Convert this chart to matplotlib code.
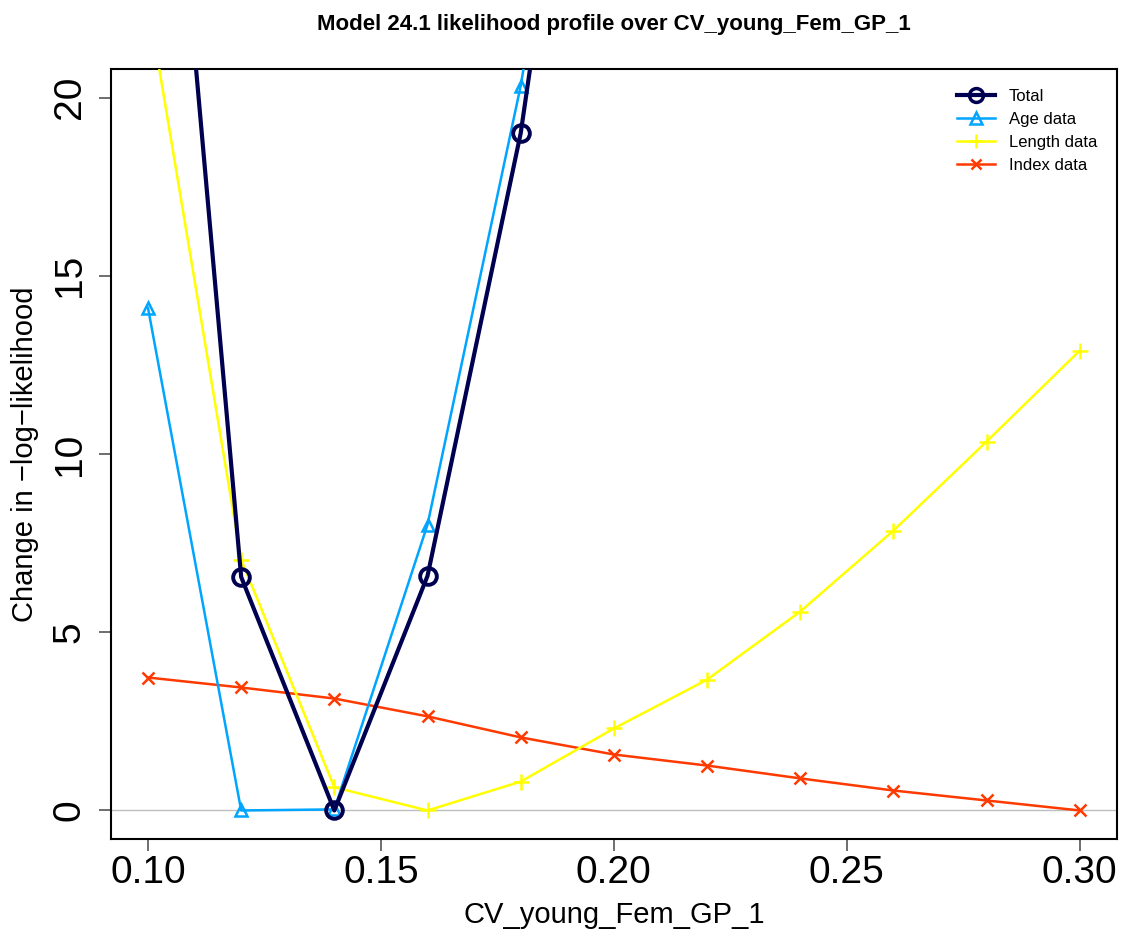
import numpy as np
import matplotlib
matplotlib.use("Agg")
import matplotlib.pyplot as plt
from matplotlib.lines import Line2D

plt.rcParams['font.family'] = ['Liberation Sans', 'DejaVu Sans']

# Profile over CV_young_Fem_GP_1
param = [0.10, 0.12, 0.14, 0.16, 0.18, 0.20, 0.22, 0.24, 0.26, 0.28, 0.30]
total = [36.0, 6.55, 0.0, 6.58, 19.0, 37.0, 58.0, 82.0, 108.0, 136.0, 166.0]
age_data = [14.1, 0.0, 0.03, 8.02, 20.33, 36.0, 54.0, 74.0, 96.0, 120.0, 146.0]
length_data = [22.7, 7.04, 0.65, 0.0, 0.81, 2.30, 3.67, 5.58, 7.85, 10.35, 12.9]
index_data = [3.73, 3.45, 3.14, 2.64, 2.05, 1.57, 1.26, 0.90, 0.56, 0.28, 0.0]

labels = ["Total", "Age data", "Length data", "Index data"]
colors = ["#000050", "#00A5FF", "#FFFF00", "#FF3A00"]

xticks = [0.10, 0.15, 0.20, 0.25, 0.30]
yticks = [0, 5, 10, 15, 20]

fig = plt.figure(figsize=(11.24, 9.43), dpi=100)
ax = fig.add_axes([0.0985, 0.1103, 0.8953, 0.8165])

ax.axhline(0, color="#BEBEBE", lw=1.0, zorder=1)

ax.plot(param, index_data, color=colors[3], lw=1.8, marker="x", ms=8,
        mew=1.8, zorder=3)
ax.plot(param, length_data, color=colors[2], lw=1.8, marker="+", ms=11,
        mew=1.8, zorder=3)
ax.plot(param, age_data, color=colors[1], lw=1.8, marker="^", ms=9,
        mfc="none", mew=1.8, zorder=4)
ax.plot(param, total, color=colors[0], lw=3.0, marker="o", ms=12,
        mfc="none", mew=2.8, zorder=5)

ax.set_xlim(0.092, 0.308)
ax.set_ylim(-0.8, 20.8)
ax.set_xticks(xticks)
ax.set_xticklabels([f"{t:.2f}" for t in xticks])
ax.set_yticks(yticks)
ax.set_yticklabels([str(t) for t in yticks], rotation=90, va="center")
ax.tick_params(axis="both", direction="out", length=8.6, width=1.2, color="#555555",
               labelsize=28)
ax.tick_params(axis="x", pad=3)
ax.tick_params(axis="y", pad=8)
for s in ax.spines.values():
    s.set_linewidth(1.5)

ax.set_xlabel("CV_young_Fem_GP_1", fontsize=21, va="center")
ax.xaxis.set_label_coords(0.5, -0.0987)
ax.set_ylabel("Change in \u2212log\u2212likelihood", fontsize=21, va="center")
ax.yaxis.set_label_coords(-0.0852, 0.5)
ax.set_title("Model 24.1 likelihood profile over CV_young_Fem_GP_1",
             fontsize=16, fontweight="bold", pad=28)

handles = [
    Line2D([], [], color=colors[0], lw=3.0, marker="o", ms=10, mfc="none", mew=2.5),
    Line2D([], [], color=colors[1], lw=1.8, marker="^", ms=8, mfc="none", mew=1.8),
    Line2D([], [], color=colors[2], lw=1.8, marker="+", ms=10, mew=1.8),
    Line2D([], [], color=colors[3], lw=1.8, marker="x", ms=7, mew=1.8),
]
ax.legend(handles, labels, loc="upper right", frameon=False, fontsize=12,
          handlelength=2.3, handletextpad=0.8, labelspacing=0.48,
          borderaxespad=0.8)

fig.savefig("out.png", dpi=100)
